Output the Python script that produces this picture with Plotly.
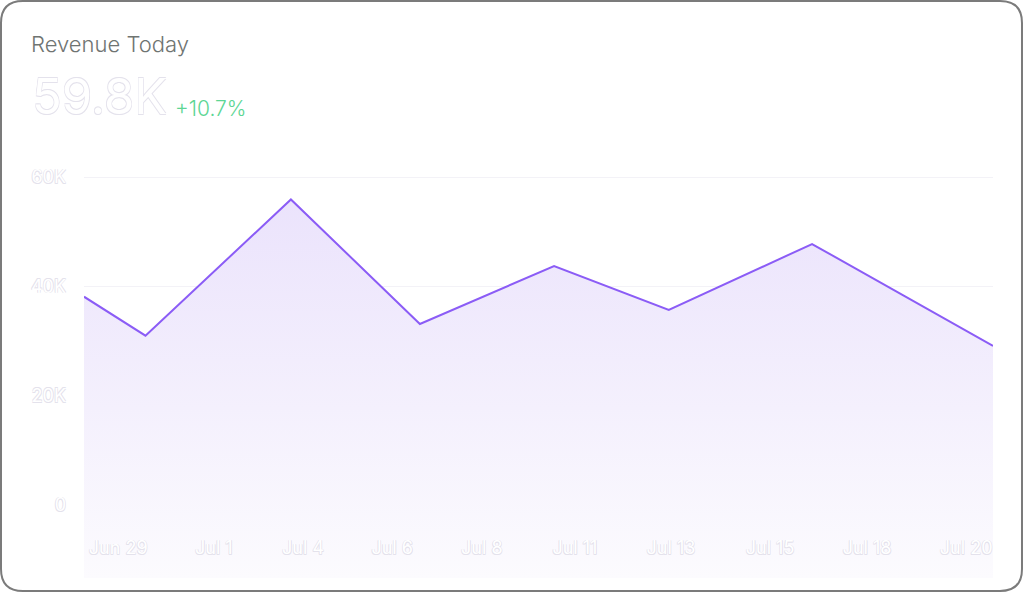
import plotly.graph_objects as go

# revenue series (x = days since Jun 29)
days = [0, 1.42, 4.78, 7.76, 10.86, 13.51, 16.82, 21]
revenue = [38100, 30970, 55890, 33110, 43720, 35670, 47740, 29090]

# x tick labels and where they sit on the day scale
tick_days = [0.79, 3.0, 5.06, 7.12, 9.19, 11.34, 13.56, 15.85, 18.09, 20.38]
tick_labels = ["Jun 29", "Jul 1", "Jul 4", "Jul 6", "Jul 8",
               "Jul 11", "Jul 13", "Jul 15", "Jul 18", "Jul 20"]

y_ticks = [0, 20000, 40000, 60000]
y_labels = ["0", "20K", "40K", "60K"]

headline = "59.8K"
change = "+10.7%"

W, H = 1024, 593
ML, MR, MT, MB = 84, 31, 170, 15
y_min, y_max = -13360, 61280

PW = W - ML - MR
PH = H - MT - MB


def px(x):
    return (x - ML) / PW


def py(y):
    return (H - MB - y) / PH


def card_path(x0, y0, x1, y1, r):
    pts = [
        "M %f,%f" % (px(x0 + r), py(y0)),
        "L %f,%f" % (px(x1 - r), py(y0)),
        "Q %f,%f %f,%f" % (px(x1), py(y0), px(x1), py(y0 + r)),
        "L %f,%f" % (px(x1), py(y1 - r)),
        "Q %f,%f %f,%f" % (px(x1), py(y1), px(x1 - r), py(y1)),
        "L %f,%f" % (px(x0 + r), py(y1)),
        "Q %f,%f %f,%f" % (px(x0), py(y1), px(x0), py(y1 - r)),
        "L %f,%f" % (px(x0), py(y0 + r)),
        "Q %f,%f %f,%f" % (px(x0), py(y0), px(x0 + r), py(y0)),
        "Z",
    ]
    return " ".join(pts)


ghost = "0.6px 0.6px 0 #e4e2ec, -0.6px -0.6px 0 #e4e2ec, 0.6px -0.6px 0 #e4e2ec, -0.6px 0.6px 0 #e4e2ec"

fig = go.Figure()

# invisible floor so the gradient runs down under the x labels
fig.add_trace(go.Scatter(
    x=days, y=[y_min] * len(days), mode="lines",
    line=dict(width=0, color="rgba(0,0,0,0)"),
    hoverinfo="skip", showlegend=False
))

fig.add_trace(go.Scatter(
    x=days, y=revenue, mode="lines",
    fill="tonexty",
    fillgradient=dict(
        type="vertical",
        colorscale=[[0, "#fcfbfe"], [0.45, "#f4f0fd"], [1, "#ebe3fc"]],
    ),
    line=dict(color="#8b5cf6", width=2),
    showlegend=False
))

fig.update_xaxes(
    range=[days[0], days[-1]],
    tickmode="array", tickvals=tick_days, ticktext=tick_labels,
    ticklabelposition="inside", ticklabelstandoff=17,
    ticklabeloverflow="allow",
    showgrid=False, zeroline=False, showline=False, ticks="",
    tickfont=dict(family="Inter", size=18, color="#ffffff", shadow=ghost),
)

fig.update_yaxes(
    range=[y_min, y_max],
    tickmode="array", tickvals=y_ticks, ticktext=y_labels,
    showgrid=True, gridcolor="#f3f2f7", gridwidth=1,
    zeroline=False, showline=False, ticks="", ticklabelstandoff=17,
    tickfont=dict(family="Inter", size=18, color="#ffffff", shadow=ghost),
)

fig.update_layout(
    width=W, height=H,
    margin=dict(l=ML, r=MR, t=MT, b=MB),
    paper_bgcolor="white", plot_bgcolor="white",
    font=dict(family="Inter"),
    title=dict(
        text="Revenue Today", xref="container", yref="container",
        x=31 / W, y=1 - 44 / H, xanchor="left", yanchor="middle",
        font=dict(family="Inter", size=22, weight=300, color="#6f7472"),
    ),
    annotations=[
        dict(text=headline, xref="paper", yref="paper",
             x=px(30), y=py(97), xanchor="left", yanchor="middle",
             showarrow=False,
             font=dict(family="Inter", size=49, color="#ffffff",
                       shadow=ghost)),
        dict(text=change, xref="paper", yref="paper",
             x=px(173), y=py(108), xanchor="left", yanchor="middle",
             showarrow=False,
             font=dict(family="Inter", size=21, weight=300, color="#5dd694")),
    ],
    shapes=[
        dict(type="path", xref="paper", yref="paper",
             path=card_path(1, 1, 1022, 591, 22),
             line=dict(color="#7b7b7b", width=2), layer="below"),
    ],
)

# drop the browser's default body margin so the card fills the window
fig.write_html("out.html", config={"displayModeBar": False},
               post_script="document.body.style.margin='0';")
